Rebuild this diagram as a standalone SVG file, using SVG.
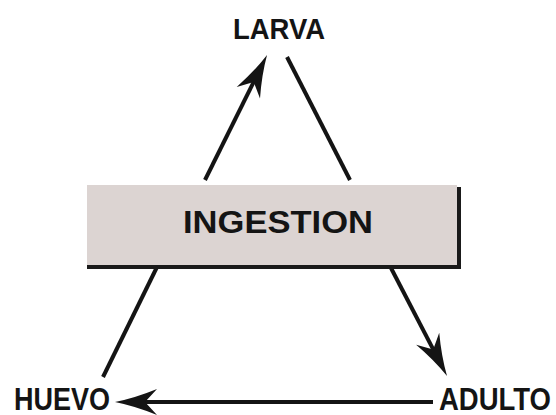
<svg xmlns="http://www.w3.org/2000/svg" width="556" height="415" viewBox="0 0 556 415">
<style>
.lbl{font-family:"Liberation Sans",Arial,sans-serif;font-weight:bold;fill:#141414}
.ln{stroke:#141414;stroke-width:4;fill:none}
</style>
<defs>
<marker id="ah" markerUnits="userSpaceOnUse" markerWidth="60" markerHeight="40" refX="0" refY="0" orient="auto" overflow="visible">
<path d="M12,0 Q-8,-4 -30,-13 L-18,0 L-30,13 Q-8,4 12,0 Z" fill="#141414"/>
</marker>
</defs>
<rect width="556" height="415" fill="#ffffff"/>
<g id="connectors">
<line class="ln" x1="205" y1="180" x2="261.7" y2="65.8" marker-end="url(#ah)"/>
<line class="ln" x1="350" y1="180" x2="287" y2="57"/>
<line class="ln" x1="391" y1="268" x2="441.5" y2="365.4" marker-end="url(#ah)"/>
<line class="ln" x1="433" y1="402" x2="127" y2="402" marker-end="url(#ah)"/>
<line class="ln" x1="157" y1="267" x2="103" y2="377"/>
</g>
<g id="ingestion">
<rect x="87" y="187" width="374" height="82" fill="#1a1a1a"/>
<rect x="87" y="185" width="370" height="80" fill="#dcd4d2"/>
<text class="lbl" x="183" y="233" font-size="32" textLength="190" lengthAdjust="spacingAndGlyphs">INGESTION</text>
</g>
<g id="larva">
<text class="lbl" x="233" y="39" font-size="30" textLength="92" lengthAdjust="spacingAndGlyphs">LARVA</text>
</g>
<g id="huevo">
<text class="lbl" x="14" y="410" font-size="32" textLength="96" lengthAdjust="spacingAndGlyphs">HUEVO</text>
</g>
<g id="adulto">
<text class="lbl" x="439" y="410" font-size="32" textLength="112" lengthAdjust="spacingAndGlyphs">ADULTO</text>
</g>
</svg>
